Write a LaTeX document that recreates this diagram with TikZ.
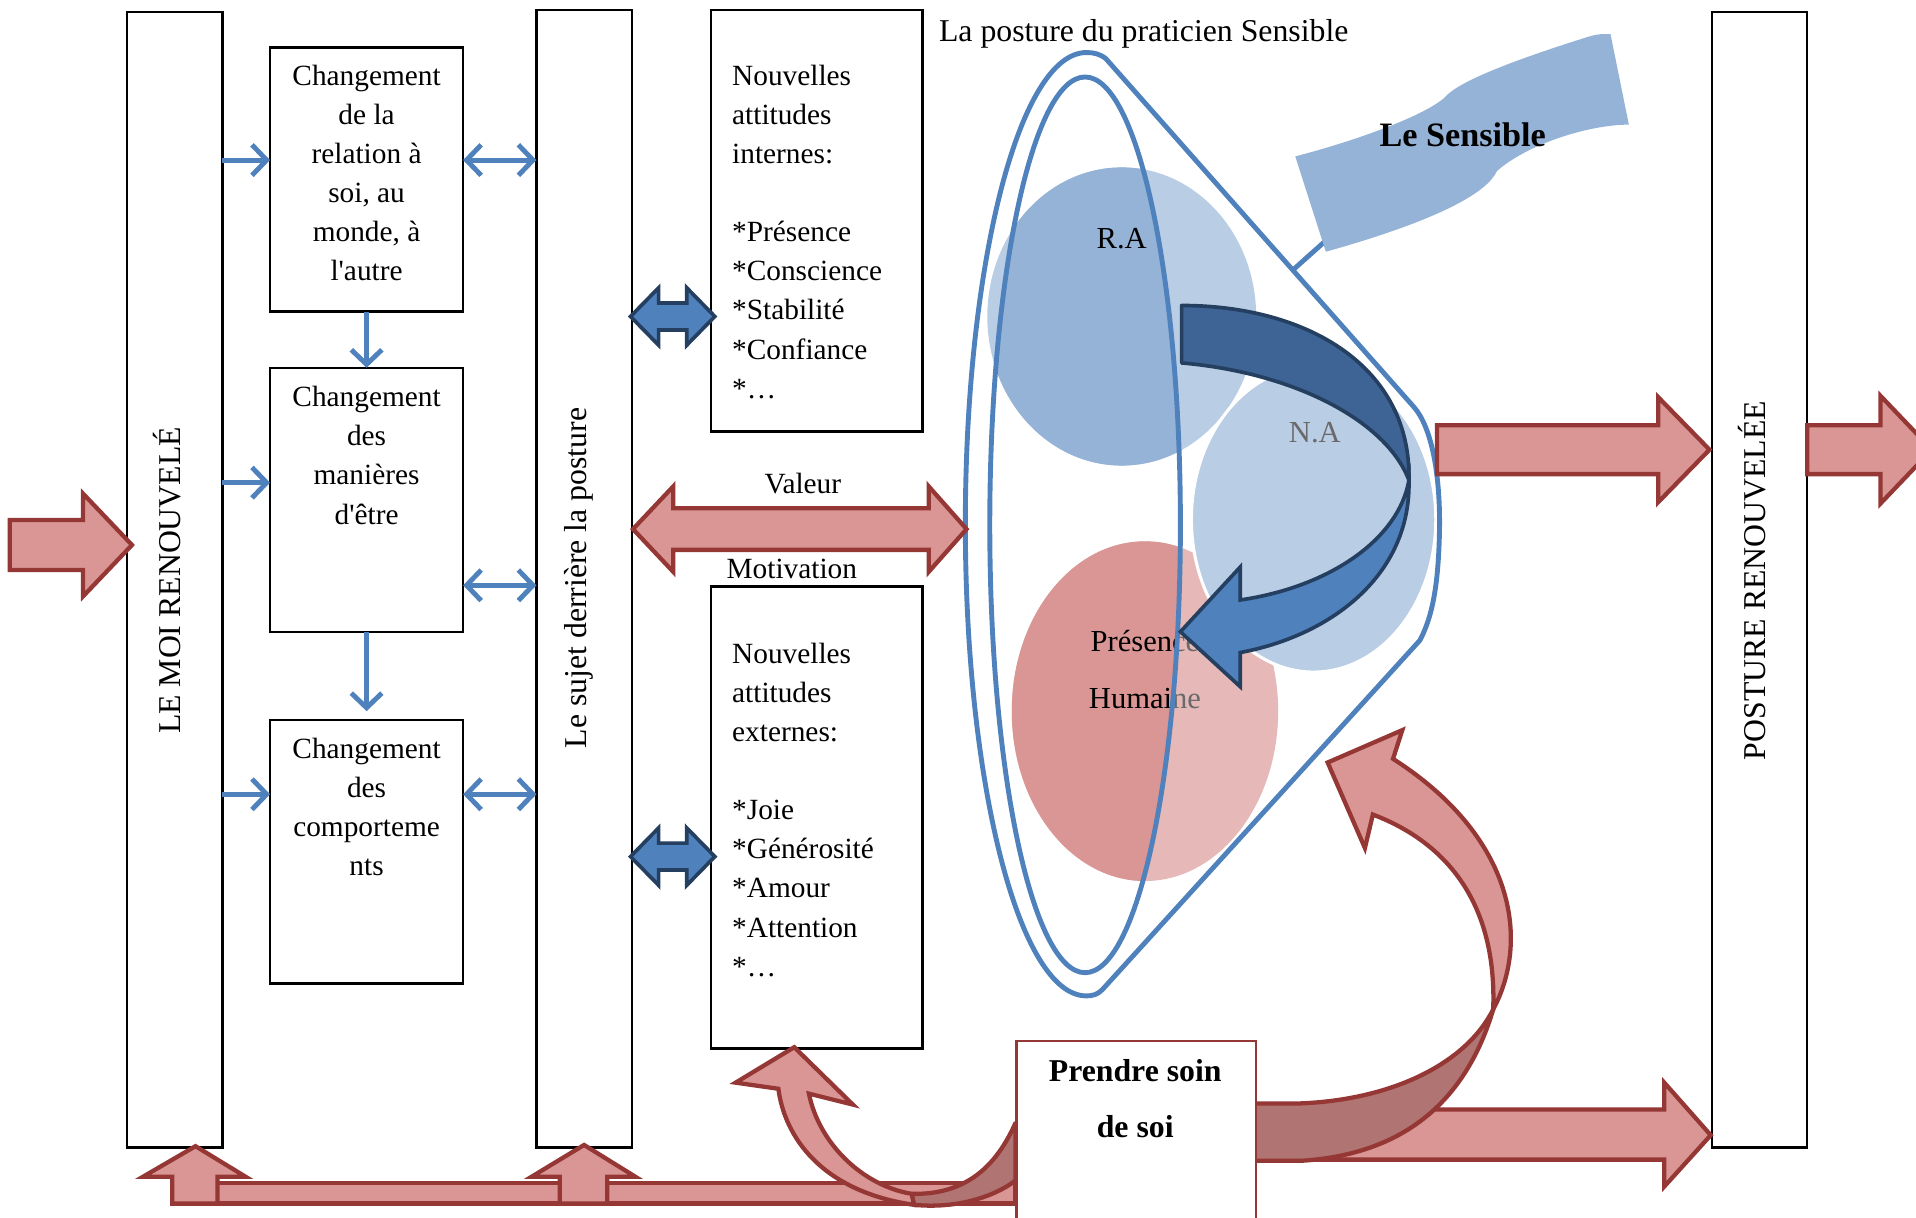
\documentclass[tikz,border=0pt]{standalone}
\usepackage{fontspec}
\newfontfamily\tnr{Liberation Serif}
\usetikzlibrary{arrows.meta}
\definecolor{cBlue}{HTML}{4F81BD}
\definecolor{cNavy}{HTML}{243F60}
\definecolor{cBand}{HTML}{3E6496}
\definecolor{cRAdark}{HTML}{95B3D7}
\definecolor{cRAlight}{HTML}{B9CDE5}
\definecolor{cPHdark}{HTML}{D99694}
\definecolor{cPHlight}{HTML}{E6B9B8}
\definecolor{cRedF}{HTML}{D99694}
\definecolor{cRedD}{HTML}{953735}
\definecolor{cBack}{HTML}{B07473}
\definecolor{cGrayT}{HTML}{6A6A6A}
\begin{document}
\begin{tikzpicture}[x=1pt,y=-1pt,
  box/.style={draw=black,line width=2pt,fill=white,inner sep=0pt,outer sep=0pt},
  lbl/.style={font=\tnr\fontsize{24}{32}\selectfont,inner sep=0pt},
  ctext/.style={font=\tnr\fontsize{25}{30}\selectfont,inner sep=0pt},
  vlbl/.style={font=\tnr\fontsize{26}{31}\selectfont,inner sep=0pt,rotate=90},
  barrow/.style={draw=cBlue,line width=4pt,-{Straight Barb[length=12pt,width=25pt]}},
  bdbl/.style={draw=cBlue,line width=4pt,{Straight Barb[length=12pt,width=25pt]}-{Straight Barb[length=12pt,width=25pt]}},
  redblk/.style={fill=cRedF,draw=cRedD,line width=3.5pt},
  backblk/.style={fill=cBack,draw=cRedD,line width=3.5pt},
  blueblk/.style={fill=cBlue,draw=cNavy,line width=3pt},
  loopline/.style={draw=cBlue,line width=4pt}]
\useasboundingbox (0,0) rectangle (1568,996);
\clip (0,0) rectangle (1568,996);

% ---------- ellipses ----------
\fill[cRAlight] (918,259) ellipse [x radius=110pt,y radius=122pt];
\fill[cPHlight] (937,582) ellipse [x radius=109pt,y radius=139pt];
\node[ctext,text=cGrayT] at (937,525) {Présence};
\node[ctext,text=cGrayT] at (937,572) {Humaine};
\begin{scope}
  \clip (888,429.5) ellipse [x radius=78pt,y radius=366.5pt];
  \fill[cRAdark] (918,259) ellipse [x radius=110pt,y radius=122pt];
  \fill[cPHdark] (937,582) ellipse [x radius=109pt,y radius=139pt];
  \node[ctext] (pres) at (937,525) {Présence};
  \node[ctext] (hum) at (937,572) {Humaine};
\end{scope}
\node[ctext] (ra) at (918,195) {R.A};
\filldraw[fill=cRAlight,draw=white,line width=2.5pt] (1075,425) ellipse [x radius=100pt,y radius=125pt];
\node[ctext,text=cGrayT] (na) at (1076,354) {N.A};

% ---------- loops / cone ----------
\draw[loopline] (888,429.5) ellipse [x radius=78pt,y radius=366.5pt];
\draw[loopline,line join=round] (905,48) -- (1157,333)
  .. controls (1172,350) and (1179,390) .. (1178,436)
  .. controls (1177,480) and (1172,505) .. (1162,524)
  -- (902,810) .. controls (898,814) and (894,815) .. (889,815)
  arc[start angle=270,end angle=90,x radius=99pt,y radius=386pt]
  .. controls (895,43) and (900,44) .. (905,48) -- cycle;

% ---------- banner ----------
\draw[loopline] (1058,221) -- (1086,196);
\fill[cRAdark] (1060,128) .. controls (1110,115) and (1165,95) .. (1182,80)
  .. controls (1192,68) and (1230,52) .. (1300,30)
  .. controls (1310,27) and (1315,28) .. (1318,28)
  -- (1333,102) .. controls (1300,102) and (1250,118) .. (1225,140)
  .. controls (1215,162) and (1160,185) .. (1085,206) -- cycle;
\node[font=\tnr\bfseries\fontsize{28}{32}\selectfont,inner sep=0pt] (sens) at (1197,110) {Le Sensible};

% ---------- blue curved arrow ----------
\filldraw[fill=cBand,draw=cNavy,line width=3pt,line join=round]
  (967,250) .. controls (1070,250) and (1155,300) .. (1153,393)
  .. controls (1135,345) and (1060,305) .. (967,297) -- cycle;
\filldraw[fill=cBlue,draw=cNavy,line width=3pt]
  (1153,393) .. controls (1155,470) and (1090,520) .. (1015,534)
  -- (1015,562) -- (966,517) -- (1015,464) -- (1015,491)
  .. controls (1090,480) and (1145,440) .. (1153,393) -- cycle;

\node[font=\tnr\fontsize{26}{30}\selectfont,inner sep=0pt] (title) at (936,28) {La posture du praticien Sensible};

% ---------- boxes ----------
\node[box,anchor=north west,minimum width=78,minimum height=929] (moi) at (104,10) {};
\node[box,anchor=north west,minimum width=158,minimum height=216] (c1) at (221,39) {};
\node[box,anchor=north west,minimum width=158,minimum height=216] (c2) at (221,301) {};
\node[box,anchor=north west,minimum width=158,minimum height=216] (c3) at (221,589) {};
\node[box,anchor=north west,minimum width=78,minimum height=931] (sujet) at (439,8) {};
\node[box,anchor=north west,minimum width=173,minimum height=345] (int) at (582,8) {};
\node[box,anchor=north west,minimum width=173,minimum height=378] (ext) at (582,480) {};
\node[box,anchor=north west,minimum width=78,minimum height=929] (post) at (1401,10) {};

\node[vlbl] (tmoi) at (137,475) {LE MOI RENOUVELÉ};
\node[vlbl] (tsujet) at (474,473) {Le sujet derrière la posture};
\node[vlbl] (tpost) at (1434,475) {POSTURE RENOUVELÉE};

\node[lbl,align=center,anchor=north] (t1) at (300,53) {Changement\\de la\\relation à\\soi, au\\monde, à\\l'autre};
\node[lbl,align=center,anchor=north] (t2) at (300,316) {Changement\\des\\manières\\d'être};
\node[lbl,align=center,anchor=north] (t3) at (300,604) {Changement\\des\\comporteme\\nts};
\node[lbl,align=left,anchor=north west] (t4) at (599,53) {Nouvelles\\attitudes\\internes:\\[32pt]{*}Présence\\{*}Conscience\\{*}Stabilité\\{*}Confiance\\{*}…};
\node[lbl,align=left,anchor=north west] (t5) at (599,526) {Nouvelles\\attitudes\\externes:\\[32pt]{*}Joie\\{*}Générosité\\{*}Amour\\{*}Attention\\{*}…};
\node[lbl] (val) at (657,396) {Valeur};
\node[lbl] (mot) at (648,466) {Motivation};

% ---------- thin blue arrows ----------
\coordinate (ya) at (0,131);
\coordinate (yb) at (0,395);
\coordinate (yc) at (0,650);
\coordinate (yd) at (0,479);
\draw[barrow] (moi.east |- ya) -- (c1.west |- ya);
\draw[bdbl] (c1.east |- ya) -- (sujet.west |- ya);
\draw[barrow] (c1.south) -- (c2.north);
\draw[barrow] (moi.east |- yb) -- (c2.west |- yb);
\draw[bdbl] (c2.east |- yd) -- (sujet.west |- yd);
\draw[barrow,shorten >=7pt] (c2.south) -- (c3.north);
\draw[barrow] (moi.east |- yc) -- (c3.west |- yc);
\draw[bdbl] (c3.east |- yc) -- (sujet.west |- yc);

% ---------- block arrows ----------
\filldraw[blueblk] (516,259) -- (539,235.5) -- (539,248) -- (562,248) -- (562,235.5) -- (585,259)
  -- (562,282.5) -- (562,270) -- (539,270) -- (539,282.5) -- cycle;
\filldraw[blueblk] (516,701) -- (539,677.5) -- (539,690) -- (562,690) -- (562,677.5) -- (585,701)
  -- (562,724.5) -- (562,712) -- (539,712) -- (539,724.5) -- cycle;
\filldraw[redblk] (518,433) -- (551,398) -- (551,416) -- (760,416) -- (760,398) -- (791,433)
  -- (760,468) -- (760,450) -- (551,450) -- (551,468) -- cycle;
\filldraw[redblk] (8,425.5) -- (68,425.5) -- (68,404) -- (108,446) -- (68,488) -- (68,466.5) -- (8,466.5) -- cycle;
\filldraw[redblk] (1176,348) -- (1357,348) -- (1357,325) -- (1399,368) -- (1357,411) -- (1357,388) -- (1176,388) -- cycle;
\filldraw[redblk] (1479,348) -- (1539,348) -- (1539,324) -- (1581,368) -- (1539,412) -- (1539,388) -- (1479,388) -- cycle;
\filldraw[redblk] (1000,908) -- (1362,908) -- (1362,886) -- (1400,929) -- (1362,971) -- (1362,949) -- (1000,949) -- cycle;

% bottom bar and up arrows
\filldraw[redblk] (141,968) rectangle (831,985);
\filldraw[redblk] (141,985) -- (141,963) -- (117,963) -- (160,938) -- (201,963) -- (178,963) -- (178,985) -- cycle;
\filldraw[redblk] (458,985) -- (458,963) -- (435,963) -- (478,937) -- (520,963) -- (497,963) -- (497,985) -- cycle;

% left curved arrow
\filldraw[backblk,line join=round] (748,986) .. controls (790,990) and (820,975) .. (831,966)
  -- (831,919) .. controls (815,955) and (790,978) .. (746,977) -- cycle;
\filldraw[redblk] (637,891) .. controls (642,930) and (672,975) .. (748,986)
  -- (746,977) .. controls (705,970) and (670,935) .. (662,895)
  -- (698,904) -- (650,857) -- (602,886) -- cycle;

% right curved arrow
\filldraw[backblk,line join=round] (1222,826) .. controls (1200,870) and (1140,900) .. (1064,903)
  -- (1015,903) -- (1015,950) -- (1064,950) .. controls (1150,945) and (1200,900) .. (1222,826) -- cycle;
\filldraw[redblk] (1222,826) .. controls (1252,770) and (1240,685) .. (1140,621)
  -- (1147.6,597.5) -- (1086.5,624) -- (1117,694) -- (1123.5,666.6)
  .. controls (1185,690) and (1225,740) .. (1222,826) -- cycle;

% Prendre soin de soi
\node[draw=cRedD,line width=2pt,fill=white,anchor=north west,minimum width=196,minimum height=170,inner sep=0pt] (soin) at (831,851) {};
\node[font=\tnr\bfseries\fontsize{26}{30}\selectfont,inner sep=0pt] (ps1) at (929,876) {Prendre soin};
\node[font=\tnr\bfseries\fontsize{26}{30}\selectfont,inner sep=0pt] (ps2) at (929,922) {de soi};
\end{tikzpicture}
\end{document}
